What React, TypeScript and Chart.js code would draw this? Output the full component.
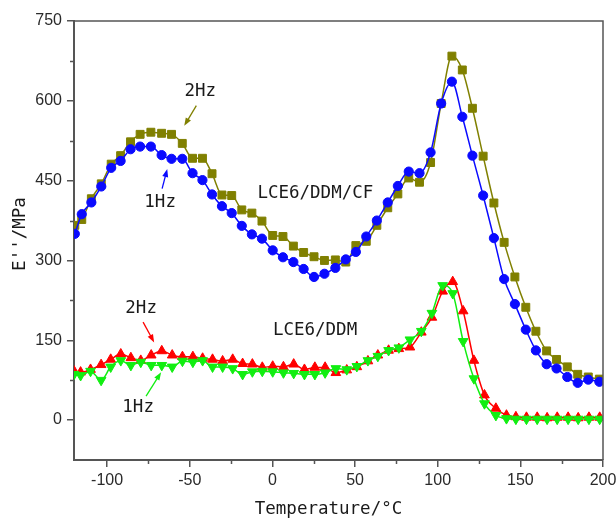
import React, { useEffect, useRef } from "react";
import { Chart, registerables } from "chart.js";

Chart.register(...registerables);

// Temperature (°C) at which the LCE6/DDM/CF samples were taken
const tempCF = [
  -119.5, -115.3, -109.5, -103.5, -97.5, -91.8, -85.8, -80, -73.5, -67,
  -61, -54.5, -48.3, -42.3, -36.5, -30.5, -24.6, -18.5, -12.4, -6.3,
  0.2, 6.4, 12.7, 18.9, 25.2, 31.5, 38.1, 44.4, 50.5, 56.8,
  63.2, 69.8, 75.9, 82.5, 89, 95.7, 102.1, 108.6, 114.9, 121,
  127.5, 134, 140.2, 146.7, 153.3, 159.4, 165.9, 171.9, 178.4, 184.7,
  191.1, 197.8,
];
// Loss modulus E'' (MPa), LCE6/DDM/CF at 1 Hz
const cf1Hz = [
  350, 387, 409, 439, 474, 487, 509, 514, 514, 498,
  491, 491, 464, 451, 424, 402, 389, 365, 349, 341,
  319, 306, 297, 284, 269, 275, 286, 302, 316, 345,
  375, 409, 440, 467, 464, 503, 595, 636, 570, 497,
  422, 342, 265, 218, 170, 131, 105, 97, 81, 70,
  76, 72,
];
// Loss modulus E'' (MPa), LCE6/DDM/CF at 2 Hz
const cf2Hz = [
  366, 377, 416, 444, 481, 497, 523, 537, 541, 539,
  537, 520, 492, 492, 463, 423, 422, 395, 389, 374,
  347, 345, 327, 315, 307, 300, 301, 297, 328, 336,
  366, 399, 425, 455, 447, 484, 595, 684, 658, 586,
  496, 408, 334, 269, 212, 167, 130, 114, 100, 86,
  81, 77,
];

// Temperature (°C) for the LCE6/DDM samples
const tempDDM = [
  -120, -116, -110, -103.6, -97.8, -91.7, -85.6, -79.6, -73.3, -66.9,
  -60.6, -54.4, -48.1, -42.2, -36.2, -30.1, -24, -18, -12.1, -6.1,
  0.2, 6.7, 12.9, 19.4, 25.7, 31.9, 38.4, 45, 51.1, 57.8,
  63.8, 70.3, 76.5, 83.2, 90.1, 96.5, 103, 109.1, 115.4, 121.9,
  128.3, 135.2, 141.6, 147.3, 153.7, 160.2, 166.2, 172.3, 178.9, 185,
  191.5, 198,
];
// Loss modulus E'' (MPa), LCE6/DDM at 2 Hz
const ddm2Hz = [
  92, 90, 95, 104, 114, 124, 117, 112, 122, 130,
  122, 119, 119, 116, 114, 111, 114, 106, 105, 99,
  101, 100, 105, 95, 99, 99, 89, 94, 100, 111,
  122, 131, 134, 137, 165, 193, 242, 260, 205, 112,
  47, 22, 9, 6, 5, 5, 4, 5, 5, 4,
  5, 5,
];
// Loss modulus E'' (MPa), LCE6/DDM at 1 Hz
const ddm1Hz = [
  86, 84, 92, 75, 100, 112, 103, 109, 103, 103,
  100, 111, 109, 112, 100, 100, 97, 86, 91, 92,
  91, 89, 88, 86, 86, 89, 97, 95, 101, 112,
  120, 131, 136, 151, 167, 201, 253, 238, 148, 78,
  31, 9, 3, 2, 2, 2, 2, 2, 2, 2,
  2, 2,
];

const xTicks = [-100, -50, 0, 50, 100, 150, 200];
const xMinorTicks = [-75, -25, 25, 75, 125, 175];
const yTicks = [0, 150, 300, 450, 600, 750];
const yMinorTicks = [75, 225, 375, 525, 675];

const BLUE = "#0a0aff";
const OLIVE = "#808000";
const RED = "#ff0000";
const GREEN = "#11ee11";
const AXIS = "#555555";
const TEXT = "#1a1a1a";
const MONO = '"DejaVu Sans Mono", "Liberation Mono", monospace';

const toPoints = (xs: number[], ys: number[]) => xs.map((x, i) => ({ x, y: ys[i] }));

function arrow(ctx: CanvasRenderingContext2D, x1: number, y1: number, x2: number, y2: number, color: string) {
  const ang = Math.atan2(y2 - y1, x2 - x1);
  const head = 8;
  const half = 3;
  ctx.strokeStyle = color;
  ctx.fillStyle = color;
  ctx.lineWidth = 1.3;
  ctx.beginPath();
  ctx.moveTo(x1, y1);
  ctx.lineTo(x2 - Math.cos(ang) * head * 0.8, y2 - Math.sin(ang) * head * 0.8);
  ctx.stroke();
  ctx.beginPath();
  ctx.moveTo(x2, y2);
  ctx.lineTo(
    x2 - Math.cos(ang) * head - Math.sin(ang) * half,
    y2 - Math.sin(ang) * head + Math.cos(ang) * half
  );
  ctx.lineTo(
    x2 - Math.cos(ang) * head + Math.sin(ang) * half,
    y2 - Math.sin(ang) * head - Math.cos(ang) * half
  );
  ctx.closePath();
  ctx.fill();
}

// Frame, minor ticks, axis titles and curve labels
const decorations = {
  id: "decorations",
  afterDraw(chart: any) {
    const { ctx, chartArea: a } = chart;
    const xs = chart.scales.x;
    const ys = chart.scales.y;
    const px = (v: number) => xs.getPixelForValue(v);
    const py = (v: number) => ys.getPixelForValue(v);
    ctx.save();

    ctx.strokeStyle = AXIS;
    ctx.lineWidth = 1.5;
    ctx.beginPath();
    ctx.moveTo(a.left, a.top);
    ctx.lineTo(a.right, a.top);
    ctx.lineTo(a.right, a.bottom);
    ctx.stroke();

    ctx.lineWidth = 1.5;
    ctx.beginPath();
    for (const t of xMinorTicks) {
      const x = Math.round(px(t)) + 0.5;
      ctx.moveTo(x, a.bottom);
      ctx.lineTo(x, a.bottom + 4);
    }
    for (const t of yMinorTicks) {
      const y = Math.round(py(t)) + 0.5;
      ctx.moveTo(a.left, y);
      ctx.lineTo(a.left - 4, y);
    }
    ctx.stroke();

    ctx.fillStyle = TEXT;
    ctx.font = `17.5px ${MONO}`;
    ctx.textAlign = "center";
    ctx.textBaseline = "middle";
    ctx.fillText("Temperature/°C", (a.left + a.right) / 2 - 10, 509);

    ctx.save();
    ctx.translate(20, 234);
    ctx.rotate(-Math.PI / 2);
    ctx.fillText("E''/MPa", 0, 0);
    ctx.restore();

    ctx.fillText("LCE6/DDM/CF", px(26), py(426));
    ctx.fillText("LCE6/DDM", px(25.8), py(169));

    ctx.fillText("2Hz", px(-43.6), py(617));
    arrow(ctx, px(-46), py(591), px(-53.3), py(553), OLIVE);

    ctx.fillStyle = TEXT;
    ctx.fillText("1Hz", px(-67.9), py(409));
    arrow(ctx, px(-66.7), py(435), px(-63.6), py(472), BLUE);

    ctx.fillStyle = TEXT;
    ctx.fillText("2Hz", px(-79.4), py(210));
    arrow(ctx, px(-78.2), py(184), px(-71.5), py(146), RED);

    ctx.fillStyle = TEXT;
    ctx.fillText("1Hz", px(-81.2), py(24));
    arrow(ctx, px(-76.4), py(45), px(-67.3), py(90), GREEN);

    ctx.restore();
  },
};

export default function App() {
  const canvasRef = useRef<HTMLCanvasElement | null>(null);

  useEffect(() => {
    const canvas = canvasRef.current;
    if (!canvas) return;

    const line = (label: string, xs: number[], ys: number[], color: string, style: string, radius: number, rotation = 0) => ({
      label,
      data: toPoints(xs, ys),
      borderColor: color,
      backgroundColor: color,
      borderWidth: 1.5,
      pointStyle: style,
      pointRadius: radius,
      pointHoverRadius: radius,
      pointRotation: rotation,
      pointBorderWidth: 1,
      pointBorderColor: color,
      pointBackgroundColor: color,
      cubicInterpolationMode: "monotone" as const,
      fill: false,
    });

    const chart = new Chart(canvas, {
      type: "line",
      data: {
        datasets: [
          line("LCE6/DDM/CF 1Hz", tempCF, cf1Hz, BLUE, "circle", 4.6),
          line("LCE6/DDM 1Hz", tempDDM, ddm1Hz, GREEN, "triangle", 5.6, 180),
          line("LCE6/DDM/CF 2Hz", tempCF, cf2Hz, OLIVE, "rect", 5.6),
          line("LCE6/DDM 2Hz", tempDDM, ddm2Hz, RED, "triangle", 5.6),
        ],
      },
      plugins: [decorations],
      options: {
        responsive: false,
        animation: false,
        events: [],
        layout: { padding: { left: 0, top: 21, right: 13, bottom: 0 } },
        plugins: {
          legend: { display: false },
          tooltip: { enabled: false },
        },
        scales: {
          x: {
            type: "linear",
            min: -120,
            max: 200,
            afterBuildTicks: (scale: any) => {
              scale.ticks = xTicks.map((value) => ({ value }));
            },
            afterFit: (scale: any) => {
              scale.height = 60;
              scale.paddingLeft = 0;
              scale.paddingRight = 0;
            },
            grid: {
              drawOnChartArea: false,
              drawTicks: true,
              tickLength: 7,
              color: AXIS,
              lineWidth: 1.5,
            },
            border: { display: true, color: AXIS, width: 2 },
            ticks: {
              autoSkip: false,
              maxRotation: 0,
              padding: 4,
              color: "#2a2a2a",
              font: { family: '"Liberation Sans", Arial, sans-serif', size: 16 },
            },
          },
          y: {
            type: "linear",
            min: -75,
            max: 750,
            afterBuildTicks: (scale: any) => {
              scale.ticks = yTicks.map((value) => ({ value }));
            },
            afterFit: (scale: any) => {
              scale.width = 74;
              scale.paddingTop = 0;
              scale.paddingBottom = 0;
            },
            grid: {
              drawOnChartArea: false,
              drawTicks: true,
              tickLength: 7,
              color: AXIS,
              lineWidth: 1.5,
            },
            border: { display: true, color: AXIS, width: 2 },
            ticks: {
              autoSkip: false,
              padding: 5,
              color: "#2a2a2a",
              font: { family: '"Liberation Sans", Arial, sans-serif', size: 16 },
            },
          },
        },
      },
    });

    return () => chart.destroy();
  }, []);

  return (
    <div style={{ position: "fixed", left: 0, top: 0, width: 616, height: 520, background: "#ffffff" }}>
      <canvas ref={canvasRef} width={616} height={520} style={{ display: "block" }} />
    </div>
  );
}
